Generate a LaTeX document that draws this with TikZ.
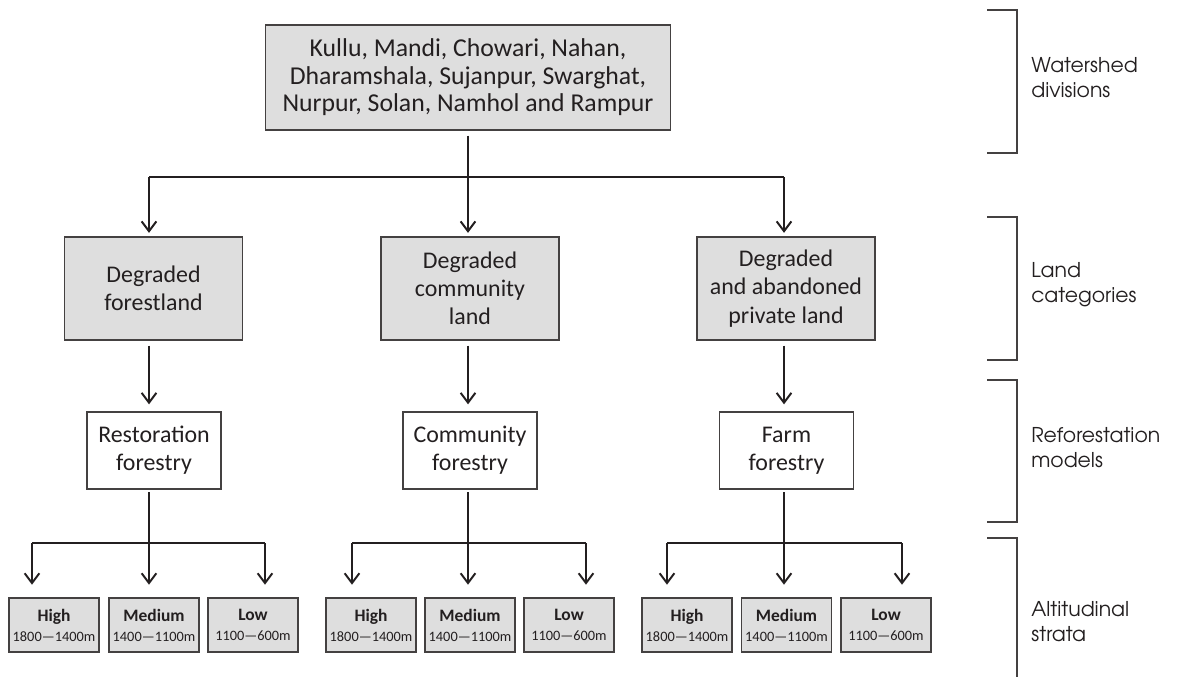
\documentclass[tikz,border=0pt]{standalone}
\usepackage{fontspec}
\setmainfont{Carlito}
\newfontfamily\gothic{TeX Gyre Adventor}
\usetikzlibrary{arrows.meta}

\definecolor{boxgrey}{HTML}{DEDEDE}
\definecolor{ink}{HTML}{231F20}

\newcommand\stratum[2]{{\fontsize{12.4}{14.2}\selectfont\bfseries #1}\\#2}

\tikzset{
    greybox/.style={draw=ink!85, line width=0.9pt, fill=boxgrey, text=ink,
        align=center, inner sep=0pt,
        font=\fontsize{17}{20}\selectfont},
    modelbox/.style={greybox, fill=white,
        minimum width=3.35cm, minimum height=1.925cm},
    landbox/.style={greybox, minimum width=4.45cm, minimum height=2.575cm},
    strbox/.style={greybox, minimum width=2.25cm, minimum height=1.35cm,
        font=\fontsize{10.2}{14.2}\selectfont},
    link/.style={line width=1.4pt, draw=ink},
    arr/.style={link, -{Straight Barb[length=7pt, width=10.5pt, line width=1.4pt]}},
    brace/.style={line width=0.9pt, draw=ink!85},
    side/.style={anchor=west, align=left, text=ink, inner sep=0pt,
        font=\gothic\fontsize{14.5}{17.8}\selectfont}
}

\begin{document}
\begin{tikzpicture}[x=0.025cm, y=-0.025cm]
    \useasboundingbox (0, 0) rectangle (1177, 677);

    \node [greybox, minimum width=10.125cm, minimum height=2.625cm,
        font=\fontsize{18.3}{19.6}\selectfont]
        (top) at (468, 77.5) {Kullu, Mandi, Chowari, Nahan,\\Dharamshala, Sujanpur, Swarghat,\\Nurpur, Solan, Namhol and Rampur};

    \node [landbox] (land1) at (153.5, 288.5) {Degraded\\forestland};
    \node [landbox] (land2) at (470, 288.5) {Degraded\\community\\land};
    \node [landbox] (land3) at (786, 288.5) {Degraded\\and abandoned\\private land};

    \node [modelbox] (model1) at (154, 450.5) {Restoration\\forestry};
    \node [modelbox] (model2) at (470, 450.5) {Community\\forestry};
    \node [modelbox] (model3) at (786.5, 450.5) {Farm\\forestry};

    \node [strbox] (high1) at (54, 625) {\stratum{High}{1800—1400m}};
    \node [strbox] (medium1) at (154, 625) {\stratum{Medium}{1400—1100m}};
    \node [strbox] (low1) at (253, 625) {\stratum{Low}{1100—600m}};
    \node [strbox] (high2) at (371, 625) {\stratum{High}{1800—1400m}};
    \node [strbox] (medium2) at (470, 625) {\stratum{Medium}{1400—1100m}};
    \node [strbox] (low2) at (569, 625) {\stratum{Low}{1100—600m}};
    \node [strbox] (high3) at (687, 625) {\stratum{High}{1800—1400m}};
    \node [strbox] (medium3) at (786.5, 625) {\stratum{Medium}{1400—1100m}};
    \node [strbox] (low3) at (886, 625) {\stratum{Low}{1100—600m}};

    \coordinate (bus1) at (149, 177);
    \coordinate (bus2) at (468, 177);
    \coordinate (bus3) at (784, 177);

    \draw [link, shorten <=3.5pt] (top.south) -- (top.south |- bus2);
    \draw [link] (bus1) -- (bus3);
    \draw [arr, shorten >=2.5pt] (bus1) -- (land1.north -| bus1);
    \draw [arr, shorten >=2.5pt] (bus2) -- (land2.north -| bus2);
    \draw [arr, shorten >=2.5pt] (bus3) -- (land3.north -| bus3);

    \draw [arr, shorten <=3.5pt, shorten >=5pt] (land1.south -| bus1) -- (model1.north -| bus1);
    \draw [arr, shorten <=3.5pt, shorten >=5pt] (land2.south -| bus2) -- (model2.north -| bus2);
    \draw [arr, shorten <=3.5pt, shorten >=5pt] (land3.south -| bus3) -- (model3.north -| bus3);

    \coordinate (left1) at (32, 543);
    \coordinate (split1) at (149, 543);
    \coordinate (right1) at (265, 543);
    \coordinate (left2) at (352, 543);
    \coordinate (split2) at (468, 543);
    \coordinate (right2) at (586, 543);
    \coordinate (left3) at (667, 543);
    \coordinate (split3) at (784, 543);
    \coordinate (right3) at (902, 543);

    \draw [link, shorten <=2pt] (model1.south -| split1) -- (split1);
    \draw [link] (left1) -- (right1);
    \draw [arr, shorten >=9pt] (left1) -- (high1.north -| left1);
    \draw [arr, shorten >=9pt] (split1) -- (medium1.north -| split1);
    \draw [arr, shorten >=9pt] (right1) -- (low1.north -| right1);

    \draw [link, shorten <=2pt] (model2.south -| split2) -- (split2);
    \draw [link] (left2) -- (right2);
    \draw [arr, shorten >=9pt] (left2) -- (high2.north -| left2);
    \draw [arr, shorten >=9pt] (split2) -- (medium2.north -| split2);
    \draw [arr, shorten >=9pt] (right2) -- (low2.north -| right2);

    \draw [link, shorten <=2pt] (model3.south -| split3) -- (split3);
    \draw [link] (left3) -- (right3);
    \draw [arr, shorten >=9pt] (left3) -- (high3.north -| left3);
    \draw [arr, shorten >=9pt] (split3) -- (medium3.north -| split3);
    \draw [arr, shorten >=9pt] (right3) -- (low3.north -| right3);

    \draw [brace] (987, 10) -- (1017, 10) -- (1017, 153) -- (987, 153);
    \draw [brace] (987, 217) -- (1017, 217) -- (1017, 360) -- (987, 360);
    \draw [brace] (987, 380) -- (1017, 380) -- (1017, 522) -- (987, 522);
    \draw [brace] (987, 538) -- (1017, 538) -- (1017, 677);

    \node [side] (watershed) at (1031, 78) {Watershed\\divisions};
    \node [side] (landcat) at (1031, 285) {Land\\categories};
    \node [side] (models) at (1031, 448) {Reforestation\\models};
    \node [side] (strata) at (1031, 622) {Altitudinal\\strata};
\end{tikzpicture}
\end{document}
